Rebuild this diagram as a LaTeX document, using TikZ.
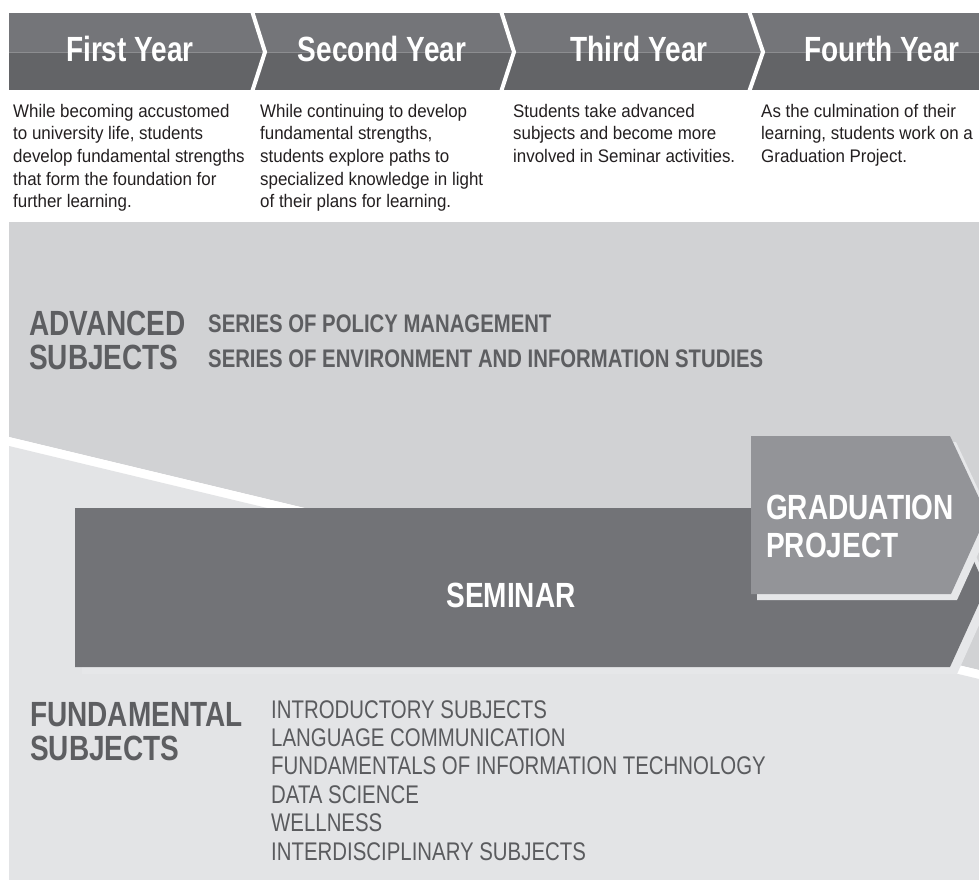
\documentclass[tikz,border=0pt]{standalone}
\usepackage{fontspec}
\setmainfont{Liberation Sans}
\newfontfamily\condfont{Liberation Sans}[FakeStretch=0.8]
\newfontfamily\descfont{Liberation Sans}[FakeStretch=0.93]
\definecolor{hdtop}{HTML}{747579}
\definecolor{hdbot}{HTML}{636467}
\definecolor{hdline}{HTML}{8C8D90}
\definecolor{desccol}{HTML}{231F20}
\definecolor{uppercol}{HTML}{D1D2D4}
\definecolor{lowercol}{HTML}{E3E4E6}
\definecolor{semcol}{HTML}{727377}
\definecolor{gradcol}{HTML}{939498}
\definecolor{shadowcol}{HTML}{E6E7E9}
\definecolor{headcol}{HTML}{5D5E61}
\definecolor{listcol}{HTML}{5A5B5E}
\tikzset{
  hdtext/.style={inner sep=0pt, text=white, font=\condfont\bfseries\fontsize{35}{40}\selectfont},
  desc/.style={inner sep=0pt, align=left, text=desccol, font=\descfont\fontsize{18.2}{22.6}\selectfont},
  bighead/.style={inner sep=0pt, text=headcol, font=\condfont\bfseries\fontsize{35}{40}\selectfont},
  series/.style={inner sep=0pt, text=headcol, font=\condfont\bfseries\fontsize{25.4}{30}\selectfont},
  listitem/.style={inner sep=0pt, text=listcol, font=\condfont\fontsize{25.5}{30}\selectfont},
  boxtext/.style={inner sep=0pt, text=white, font=\condfont\bfseries\fontsize{35}{40}\selectfont},
  sep/.style={white, line width=4pt}
}
\begin{document}
\begin{tikzpicture}[x=1pt,y=-1pt]
\useasboundingbox (0,0) rectangle (979,880);
\fill[white] (0,0) rectangle (979,880);
% header band
\fill[hdtop] (9,13) rectangle (979,52);
\fill[hdbot] (9,52) rectangle (979,90);
\draw[hdline, line width=0.8pt] (9,52) -- (979,52);
\draw[sep] (252,11) -- (265,52) -- (252,92);
\draw[sep] (501,11) -- (514,52) -- (501,92);
\draw[sep] (749,11) -- (763,52) -- (749,92);
\node[hdtext, anchor=base] (y1) at (130,62) {First Year};
\node[hdtext, anchor=base] (y2) at (382,62) {Second Year};
\node[hdtext, anchor=base] (y3) at (639,62) {Third Year};
\node[hdtext, anchor=base] (y4) at (882,62) {Fourth Year};
% descriptions
\node[desc, anchor=north west] (d1) at (13,104) {While becoming accustomed\\to university life, students\\develop fundamental strengths\\that form the foundation for\\further learning.};
\node[desc, anchor=north west] (d2) at (260,104) {While continuing to develop\\fundamental strengths,\\students explore paths to\\specialized knowledge in light\\of their plans for learning.};
\node[desc, anchor=north west] (d3) at (513,104) {Students take advanced\\subjects and become more\\involved in Seminar activities.};
\node[desc, anchor=north west] (d4) at (761,104) {As the culmination of their\\learning, students work on a\\Graduation Project.};
% grey areas
\fill[uppercol] (9,222) -- (979,222) -- (979,670) -- (9,437) -- cycle;
\fill[white] (9,437) -- (979,670) -- (979,679) -- (9,446) -- cycle;
\fill[lowercol] (9,446) -- (979,679) -- (979,880) -- (9,880) -- cycle;
% seminar arrow
\fill[shadowcol] (82,514) -- (957,514) -- (993,594) -- (957,674) -- (82,674) -- cycle;
\fill[semcol] (75,508) -- (950,508) -- (986,588) -- (950,667) -- (75,667) -- cycle;
% graduation project arrow
\fill[shadowcol] (757,442) -- (956,442) -- (993,521) -- (957,600) -- (757,600) -- cycle;
\fill[gradcol] (751,436) -- (950,436) -- (987,515) -- (951,594) -- (751,594) -- cycle;
\node[boxtext, anchor=base] (sem) at (511,607) {SEMINAR};
\node[boxtext, anchor=base west] (gp1) at (766,519) {GRADUATION};
\node[boxtext, anchor=base west] (gp2) at (766,557) {PROJECT};
% advanced subjects
\node[bighead, anchor=base west] (adv1) at (29,335) {ADVANCED};
\node[bighead, anchor=base west] (adv2) at (29,369) {SUBJECTS};
\node[series, anchor=base west] (s1) at (208,332) {SERIES OF POLICY MANAGEMENT};
\node[series, anchor=base west] (s2) at (208,367) {SERIES OF ENVIRONMENT AND INFORMATION STUDIES};
% fundamental subjects
\node[bighead, anchor=base west] (fun1) at (30,726) {FUNDAMENTAL};
\node[bighead, anchor=base west] (fun2) at (30,760) {SUBJECTS};
\node[listitem, anchor=base west] (l1) at (271,718) {INTRODUCTORY SUBJECTS};
\node[listitem, anchor=base west] (l2) at (271,746.4) {LANGUAGE COMMUNICATION};
\node[listitem, anchor=base west] (l3) at (271,774.8) {FUNDAMENTALS OF INFORMATION TECHNOLOGY};
\node[listitem, anchor=base west] (l4) at (271,803.2) {DATA SCIENCE};
\node[listitem, anchor=base west] (l5) at (271,831.6) {WELLNESS};
\node[listitem, anchor=base west] (l6) at (271,860) {INTERDISCIPLINARY SUBJECTS};
\end{tikzpicture}
\end{document}
